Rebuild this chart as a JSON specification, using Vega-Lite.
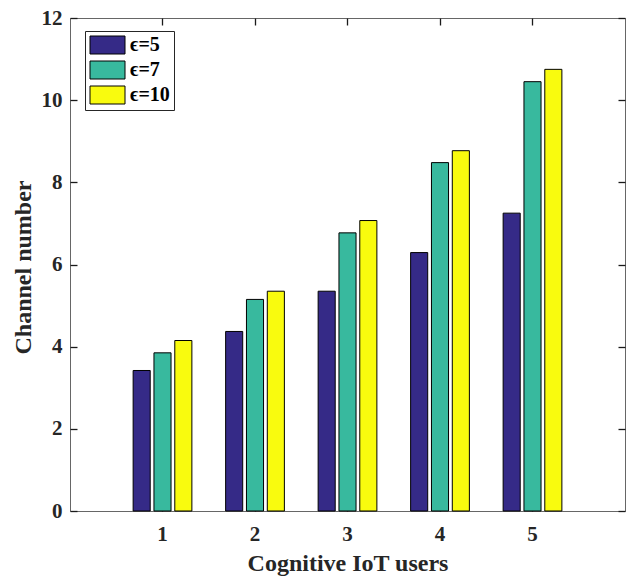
{
  "$schema": "https://vega.github.io/schema/vega-lite/v6.json",
  "width": 555,
  "height": 493,
  "autosize": {"type": "none"},
  "padding": {"left": 70, "top": 18, "right": 5, "bottom": 66},
  "background": "white",
  "config": {
    "view": {"stroke": "#666666", "strokeWidth": 1},
    "font": "Liberation Serif",
    "axis": {
      "labelFont": "Liberation Serif",
      "labelFontWeight": "bold",
      "labelFontSize": 21,
      "labelColor": "#262626",
      "titleFont": "Liberation Serif",
      "titleFontWeight": "bold",
      "titleFontSize": 24,
      "titleColor": "#262626",
      "grid": false
    },
    "legend": {"labelFont": "Liberation Serif"}
  },
  "data": {
    "values": [
      {"user": "1", "eps": "ϵ=5", "ch": 3.42},
      {"user": "1", "eps": "ϵ=7", "ch": 3.85},
      {"user": "1", "eps": "ϵ=10", "ch": 4.15},
      {"user": "2", "eps": "ϵ=5", "ch": 4.37},
      {"user": "2", "eps": "ϵ=7", "ch": 5.15},
      {"user": "2", "eps": "ϵ=10", "ch": 5.35},
      {"user": "3", "eps": "ϵ=5", "ch": 5.35},
      {"user": "3", "eps": "ϵ=7", "ch": 6.77},
      {"user": "3", "eps": "ϵ=10", "ch": 7.07},
      {"user": "4", "eps": "ϵ=5", "ch": 6.29},
      {"user": "4", "eps": "ϵ=7", "ch": 8.48},
      {"user": "4", "eps": "ϵ=10", "ch": 8.77},
      {"user": "5", "eps": "ϵ=5", "ch": 7.25},
      {"user": "5", "eps": "ϵ=7", "ch": 10.45},
      {"user": "5", "eps": "ϵ=10", "ch": 10.75}
    ]
  },
  "layer": [
    {
      "mark": {"type": "bar", "stroke": "black", "strokeWidth": 1},
      "encoding": {
        "x": {
          "field": "user",
          "type": "nominal",
          "scale": {"paddingInner": 0, "paddingOuter": 0.5},
          "axis": {
            "orient": "bottom",
            "labelAngle": 0,
            "domain": false,
            "ticks": true,
            "tickSize": -7,
            "tickColor": "#1a1a1a",
            "tickWidth": 1.3,
            "labelPadding": 19,
            "title": "Cognitive IoT users",
            "titleBaseline": "alphabetic",
            "titleY": 59,
            "titleX": 277.5,
            "titleAlign": "center"
          }
        },
        "xOffset": {
          "field": "eps",
          "type": "nominal",
          "sort": ["ϵ=5", "ϵ=7", "ϵ=10"],
          "scale": {"paddingInner": 0.18, "paddingOuter": 0.81}
        },
        "y": {
          "field": "ch",
          "type": "quantitative",
          "scale": {"domain": [0, 12], "nice": false},
          "axis": {
            "orient": "left",
            "values": [0, 2, 4, 6, 8, 10, 12],
            "format": "d",
            "domain": false,
            "ticks": true,
            "tickSize": -7,
            "tickColor": "#1a1a1a",
            "tickWidth": 1.3,
            "labelPadding": 15,
            "title": "Channel number",
            "titleAngle": -90,
            "titleBaseline": "middle",
            "titleAlign": "center",
            "titleX": -47,
            "titleY": 249
          }
        },
        "color": {
          "field": "eps",
          "type": "nominal",
          "sort": ["ϵ=5", "ϵ=7", "ϵ=10"],
          "scale": {"range": ["#352A87", "#38B99E", "#F9FB0E"]},
          "legend": {
            "title": null,
            "orient": "none",
            "legendX": 15,
            "legendY": 13,
            "padding": 4,
            "fillColor": "white",
            "strokeColor": "#262626",
            "symbolType": "M-1,-1H2.89V1H-1Z",
            "symbolSize": 324,
            "symbolStrokeColor": "black",
            "symbolStrokeWidth": 1,
            "symbolOpacity": 1,
            "labelFont": "Liberation Serif",
            "labelFontWeight": "bold",
            "labelFontSize": 20,
            "labelColor": "black",
            "labelOffset": 21,
            "rowPadding": 3
          }
        }
      }
    },
    {
      "mark": {"type": "tick", "opacity": 0},
      "encoding": {
        "x": {
          "field": "user",
          "type": "nominal",
          "axis": {"orient": "top", "labels": false, "title": null, "domain": false, "ticks": true, "tickSize": -7, "tickColor": "#1a1a1a", "tickWidth": 1.3}
        },
        "y": {
          "field": "ch",
          "type": "quantitative",
          "axis": {"orient": "right", "values": [0, 2, 4, 6, 8, 10, 12], "labels": false, "title": null, "domain": false, "ticks": true, "tickSize": -7, "tickColor": "#1a1a1a", "tickWidth": 1.3}
        }
      }
    }
  ],
  "resolve": {"axis": {"x": "independent", "y": "independent"}}
}
